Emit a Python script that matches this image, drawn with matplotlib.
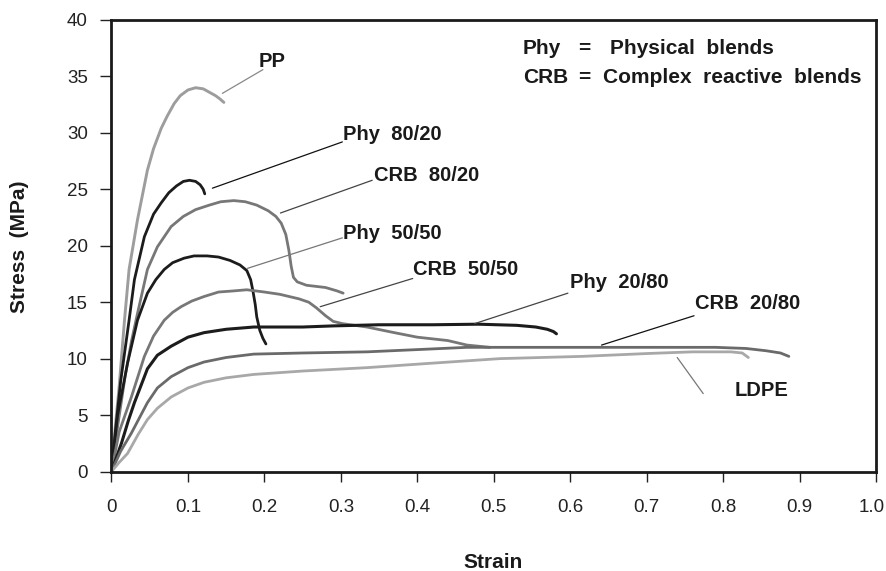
import matplotlib
matplotlib.use("Agg")
import matplotlib.pyplot as plt
from matplotlib.transforms import ScaledTranslation

plt.rcParams['font.family'] = ['Liberation Sans', 'DejaVu Sans']

# ---- data (strain, stress MPa) ----
pp_x = [0, 0.005, 0.01, 0.017, 0.023, 0.034, 0.047, 0.055, 0.065, 0.073, 0.082, 0.09, 0.1, 0.11, 0.12, 0.128, 0.136, 0.142, 0.147]
pp_y = [0, 4, 7.5, 13.4, 17.9, 22.3, 26.7, 28.6, 30.4, 31.5, 32.6, 33.3, 33.8, 34.0, 33.9, 33.6, 33.3, 33.0, 32.7]

phy8020_x = [0, 0.005, 0.012, 0.023, 0.030, 0.043, 0.055, 0.065, 0.075, 0.085, 0.094, 0.102, 0.11, 0.116, 0.12, 0.122]
phy8020_y = [0, 3.5, 8, 13.4, 17.0, 20.8, 22.8, 23.8, 24.7, 25.3, 25.7, 25.8, 25.7, 25.4, 25.0, 24.6]

crb8020_x = [0, 0.008, 0.018, 0.026, 0.034, 0.047, 0.06, 0.078, 0.094, 0.11, 0.128, 0.143, 0.16, 0.175, 0.19, 0.205, 0.215, 0.222, 0.228, 0.232, 0.235, 0.238, 0.243, 0.255, 0.28, 0.295, 0.303]
crb8020_y = [0, 4, 8.5, 11.5, 14.0, 17.9, 19.9, 21.7, 22.6, 23.2, 23.6, 23.9, 24.0, 23.9, 23.6, 23.1, 22.6, 22.0, 21.0, 19.6, 18.2, 17.2, 16.8, 16.5, 16.3, 16.0, 15.8]

phy5050_x = [0, 0.008, 0.021, 0.034, 0.047, 0.058, 0.069, 0.08, 0.095, 0.108, 0.125, 0.14, 0.155, 0.168, 0.177, 0.182, 0.185, 0.188, 0.19, 0.194, 0.198, 0.202]
phy5050_y = [0, 5, 9.6, 13.4, 15.8, 17.0, 17.9, 18.5, 18.9, 19.1, 19.1, 19.0, 18.7, 18.3, 17.8, 17.0, 16.0, 14.8, 13.7, 12.5, 11.8, 11.3]

crb5050_x = [0, 0.01, 0.026, 0.043, 0.055, 0.069, 0.08, 0.091, 0.105, 0.121, 0.14, 0.16, 0.177, 0.2, 0.22, 0.245, 0.258, 0.268, 0.28, 0.29, 0.302, 0.334, 0.37, 0.40, 0.44, 0.465, 0.495]
crb5050_y = [0, 3.5, 6.6, 10.2, 12.0, 13.4, 14.1, 14.6, 15.1, 15.5, 15.9, 16.0, 16.1, 15.9, 15.7, 15.3, 15.0, 14.5, 13.8, 13.3, 13.1, 12.8, 12.3, 11.9, 11.6, 11.2, 11.0]

phy2080_x = [0, 0.013, 0.022, 0.030, 0.047, 0.06, 0.078, 0.1, 0.121, 0.15, 0.186, 0.25, 0.29, 0.35, 0.42, 0.48, 0.53, 0.555, 0.57, 0.578, 0.582]
phy2080_y = [0, 2.5, 4.5, 6.1, 9.1, 10.3, 11.1, 11.9, 12.3, 12.6, 12.8, 12.8, 12.9, 13.0, 13.0, 13.05, 12.95, 12.8, 12.6, 12.4, 12.2]

crb2080_x = [0, 0.012, 0.026, 0.047, 0.06, 0.078, 0.1, 0.121, 0.15, 0.186, 0.25, 0.334, 0.40, 0.465, 0.55, 0.616, 0.70, 0.79, 0.83, 0.856, 0.875, 0.886]
crb2080_y = [0, 1.8, 3.4, 6.1, 7.4, 8.4, 9.2, 9.7, 10.1, 10.4, 10.5, 10.6, 10.8, 11.0, 11.0, 11.0, 11.0, 11.0, 10.9, 10.7, 10.5, 10.2]

ldpe_x = [0, 0.01, 0.021, 0.035, 0.047, 0.06, 0.078, 0.1, 0.121, 0.15, 0.186, 0.25, 0.334, 0.42, 0.508, 0.616, 0.70, 0.76, 0.81, 0.825, 0.833]
ldpe_y = [0, 0.8, 1.6, 3.3, 4.6, 5.6, 6.6, 7.4, 7.9, 8.3, 8.6, 8.9, 9.2, 9.6, 10.0, 10.2, 10.45, 10.6, 10.6, 10.5, 10.1]

labels = ["PP", "Phy  80/20", "CRB  80/20", "Phy  50/50", "CRB  50/50", "Phy  20/80", "CRB  20/80", "LDPE"]
x_ticks = [0, 0.1, 0.2, 0.3, 0.4, 0.5, 0.6, 0.7, 0.8, 0.9, 1.0]
x_ticklabels = ["0", "0.1", "0.2", "0.3", "0.4", "0.5", "0.6", "0.7", "0.8", "0.9", "1.0"]
y_ticks = [0, 5, 10, 15, 20, 25, 30, 35, 40]

series = [
    (pp_x, pp_y, "#9d9d9d", 2.1),
    (phy8020_x, phy8020_y, "#1c1c1c", 2.0),
    (crb8020_x, crb8020_y, "#777777", 2.0),
    (phy5050_x, phy5050_y, "#1c1c1c", 2.0),
    (crb5050_x, crb5050_y, "#777777", 2.0),
    (phy2080_x, phy2080_y, "#1c1c1c", 2.2),
    (crb2080_x, crb2080_y, "#6a6a6a", 2.0),
    (ldpe_x, ldpe_y, "#a8a8a8", 2.0),
]

# label text position, leader start, leader end, leader colour
label_pos = [(0.192, 36.3), (0.303, 29.9), (0.344, 26.2), (0.303, 21.1), (0.395, 17.9), (0.600, 16.7), (0.763, 14.9), (0.815, 7.2)]
leader_from = [(0.198, 35.6), (0.302, 29.2), (0.341, 25.8), (0.302, 20.7), (0.394, 17.1), (0.597, 15.8), (0.762, 13.8), (0.740, 10.1)]
leader_to = [(0.145, 33.5), (0.132, 25.1), (0.221, 22.9), (0.178, 18.0), (0.273, 14.6), (0.475, 13.1), (0.641, 11.2), (0.774, 6.9)]
leader_col = ["#888888", "#111111", "#444444", "#777777", "#444444", "#444444", "#111111", "#777777"]

fig = plt.figure(figsize=(8.86, 5.71), dpi=100)
ax = fig.add_axes([111.5 / 886, 1 - 471.5 / 571, (876 - 111.5) / 886, (471.5 - 20) / 571])

for xs, ys, c, lw in series:
    ax.plot(xs, ys, color=c, lw=lw, solid_capstyle='round', solid_joinstyle='round')

for lab, tp, lf, lt, lc in zip(labels, label_pos, leader_from, leader_to, leader_col):
    ax.annotate("", xy=lt, xytext=lf, arrowprops=dict(arrowstyle='-', color=lc, lw=0.9, shrinkA=0, shrinkB=0))
    ax.text(tp[0], tp[1], lab, fontsize=14.5, fontweight='bold', ha='left', va='center', color='#1a1a1a')

kw = dict(fontsize=15, fontweight='bold', ha='left', va='center', color='#1a1a1a')
ax.text(0.538, 37.5, "Phy", **kw)
ax.text(0.610, 37.5, "=", **kw)
ax.text(0.652, 37.5, "Physical  blends", **kw)
ax.text(0.538, 34.9, "CRB", **kw)
ax.text(0.610, 34.9, "=", **kw)
ax.text(0.643, 34.9, "Complex  reactive  blends", **kw)

ax.set_xlim(0, 1.0)
ax.set_ylim(0, 40)
ax.set_xticks(x_ticks)
ax.set_xticklabels(x_ticklabels)
ax.set_yticks(y_ticks)
ax.tick_params(axis='both', direction='out', labelsize=13.5, colors='#222222', width=1.0)
ax.tick_params(axis='x', length=7, pad=12.5)
ax.tick_params(axis='y', length=8, pad=9)
last = ax.get_xticklabels()[-1]
last.set_transform(last.get_transform() + ScaledTranslation(-4 / 100, 0, fig.dpi_scale_trans))
for s in ax.spines.values():
    s.set_linewidth(2.0)
    s.set_color('#1a1a1a')

fig.text(493 / 886, 1 - 562 / 571, "Strain", fontsize=15, fontweight='bold', ha='center', va='center', color='#1a1a1a')
fig.text(20 / 886, 1 - 246.5 / 571, "Stress  (MPa)", fontsize=15, fontweight='bold', ha='center', va='center', rotation=90, color='#1a1a1a')

fig.savefig("out.png", dpi=100, facecolor='white')
